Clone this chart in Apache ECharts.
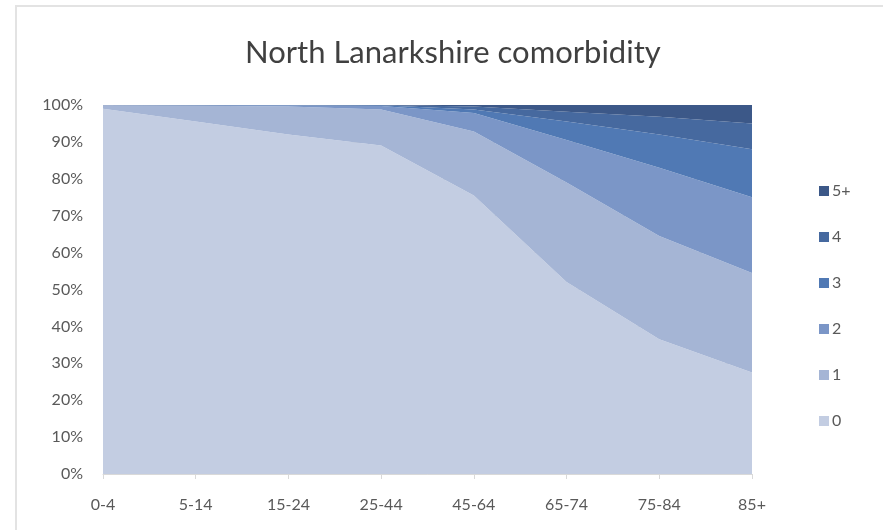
<!DOCTYPE html>
<html>
<head>
<meta charset="utf-8">
<script src="https://cdn.jsdelivr.net/npm/echarts@6/dist/echarts.min.js"></script>
<style>
  html, body { margin: 0; padding: 0; background: #fff; }
  #chart { width: 883px; height: 530px; }
</style>
</head>
<body>
<div id="chart"></div>
<script>
// Age bands
const ageBands = ['0-4', '5-14', '15-24', '25-44', '45-64', '65-74', '75-84', '85+'];

// Share of people (%) by number of comorbidities, per age band
const none      = [99.0, 95.5, 92.0, 89.0, 75.5, 52.0, 36.5, 27.5];
const one       = [0.9, 4.3, 7.6, 9.8, 17.3, 27.0, 28.0, 27.0];
const two       = [0.1, 0.1, 0.3, 0.9, 5.0, 11.5, 18.5, 20.5];
const three     = [0.0, 0.1, 0.1, 0.2, 1.0, 5.0, 9.0, 13.0];
const four      = [0.0, 0.0, 0.0, 0.1, 0.8, 2.7, 4.8, 7.0];
const fivePlus  = [0.0, 0.0, 0.0, 0.0, 0.4, 1.8, 3.2, 5.0];

const seriesNames = ['0', '1', '2', '3', '4', '5+'];
const seriesValues = [none, one, two, three, four, fivePlus];
const seriesColors = ['#c3cde2', '#a5b5d5', '#7b96c7', '#5079b4', '#46699f', '#3c5888'];

const yTicks = [0, 10, 20, 30, 40, 50, 60, 70, 80, 90, 100];

const chart = echarts.init(document.getElementById('chart'));

chart.setOption({
  animation: false,
  backgroundColor: '#ffffff',
  title: {
    text: 'North Lanarkshire comorbidity',
    left: 240,
    top: 32,
    textStyle: {
      fontFamily: 'Lato',
      fontSize: 31,
      fontWeight: 'normal',
      color: '#404040'
    }
  },
  graphic: [{
    type: 'polyline',
    shape: { points: [[16, 540], [16, 6], [900, 6]] },
    style: { stroke: '#e3e3e3', lineWidth: 2, fill: null },
    silent: true
  }],
  legend: {
    orient: 'vertical',
    left: 814,
    top: 178,
    itemGap: 30,
    itemWidth: 10,
    itemHeight: 10,
    icon: 'rect',
    data: ['5+', '4', '3', '2', '1', '0'],
    textStyle: { fontFamily: 'Lato', fontSize: 16, color: '#595959', padding: [0, 0, 0, -2] }
  },
  grid: { left: 103, right: 131, top: 105, bottom: 56, containLabel: false },
  xAxis: {
    type: 'category',
    data: ageBands,
    boundaryGap: false,
    axisLine: { lineStyle: { color: '#d9d9d9', width: 1 } },
    axisTick: { show: true, length: 5, lineStyle: { color: '#d9d9d9' } },
    axisLabel: { fontFamily: 'Lato', fontSize: 16, color: '#595959', margin: 23 }
  },
  yAxis: {
    type: 'value',
    min: 0,
    max: 100,
    interval: 10,
    axisLine: { show: false },
    axisTick: { show: false },
    splitLine: { show: true, lineStyle: { color: '#d9d9d9' } },
    axisLabel: {
      fontFamily: 'Lato', fontSize: 16, color: '#595959', margin: 20,
      formatter: v => (yTicks.includes(v) ? v + '%' : '')
    }
  },
  series: seriesNames.map((name, i) => ({
    name,
    type: 'line',
    stack: 'total',
    data: seriesValues[i],
    symbol: 'none',
    lineStyle: { width: 0 },
    areaStyle: { color: seriesColors[i], opacity: 1 },
    itemStyle: { color: seriesColors[i] },
    z: 2
  }))
});
</script>
</body>
</html>
